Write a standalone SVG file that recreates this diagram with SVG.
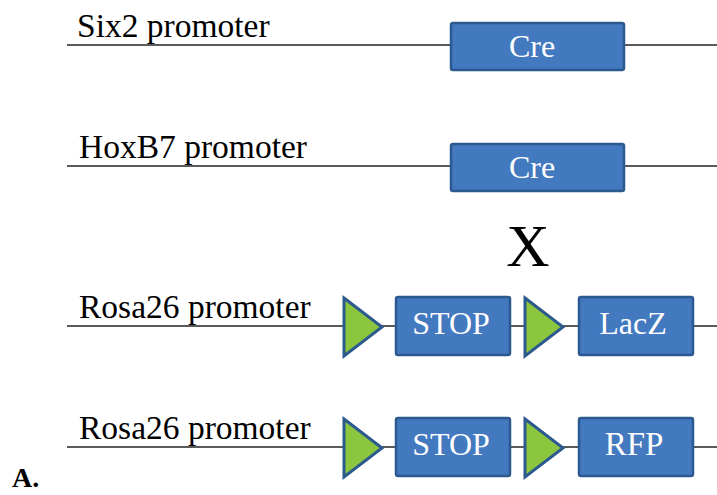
<svg xmlns="http://www.w3.org/2000/svg" width="717" height="495" viewBox="0 0 717 495">
<style>
.dna{stroke:#5a5a5a;stroke-width:2;fill:none}
.lbl{font-size:33.5px;fill:#000}
.box{fill:#4379bf;stroke:#2d5a8e;stroke-width:2.5}
.btxt{fill:#fff;text-anchor:middle}
.lox{fill:#8cc63e;stroke:#2d5a8e;stroke-width:3;stroke-linejoin:miter}
</style>
<rect fill="#fff" width="717" height="495"/>
<g id="connectors">
<line class="dna" x1="67" y1="45" x2="717" y2="45"/>
<line class="dna" x1="67" y1="166" x2="717" y2="166"/>
<line class="dna" x1="67" y1="326" x2="717" y2="326"/>
<line class="dna" x1="67" y1="447" x2="717" y2="447"/>
</g>
<g font-family="Liberation Serif, Times New Roman, serif">
<g id="row1">
<text class="lbl" x="77" y="37">Six2 promoter</text>
<g id="cre1"><rect class="box" x="451" y="23" width="173" height="47" rx="2"/><text class="btxt" x="532" y="57" font-size="32">Cre</text></g>
</g>
<g id="row2">
<text class="lbl" x="79" y="158">HoxB7 promoter</text>
<g id="cre2"><rect class="box" x="451" y="144" width="173" height="47" rx="2"/><text class="btxt" x="532" y="178" font-size="32">Cre</text></g>
</g>
<text id="cross" x="528" y="266" font-size="60" text-anchor="middle" fill="#000">X</text>
<g id="row3">
<text class="lbl" x="79" y="318">Rosa26 promoter</text>
<g id="loxA3"><polygon class="lox" points="344,298 382,327 344,356"/></g>
<g id="stop3"><rect class="box" x="396" y="297" width="114" height="58" rx="2"/><text class="btxt" x="451" y="334" font-size="32">STOP</text></g>
<g id="loxB3"><polygon class="lox" points="525,298 563,327 525,356"/></g>
<g id="lacz"><rect class="box" x="579" y="297" width="114" height="58" rx="2"/><text class="btxt" x="633" y="334" font-size="32">LacZ</text></g>
</g>
<g id="row4">
<text class="lbl" x="79" y="439">Rosa26 promoter</text>
<g id="loxA4"><polygon class="lox" points="344,419 382,448 344,477"/></g>
<g id="stop4"><rect class="box" x="396" y="418" width="114" height="58" rx="2"/><text class="btxt" x="451" y="455" font-size="32">STOP</text></g>
<g id="loxB4"><polygon class="lox" points="525,419 563,448 525,477"/></g>
<g id="rfp"><rect class="box" x="579" y="418" width="114" height="58" rx="2"/><text class="btxt" x="634" y="455" font-size="33">RFP</text></g>
</g>
<text id="panel" x="12" y="487" font-size="28" font-weight="bold" fill="#000">A.</text>
</g>
</svg>
